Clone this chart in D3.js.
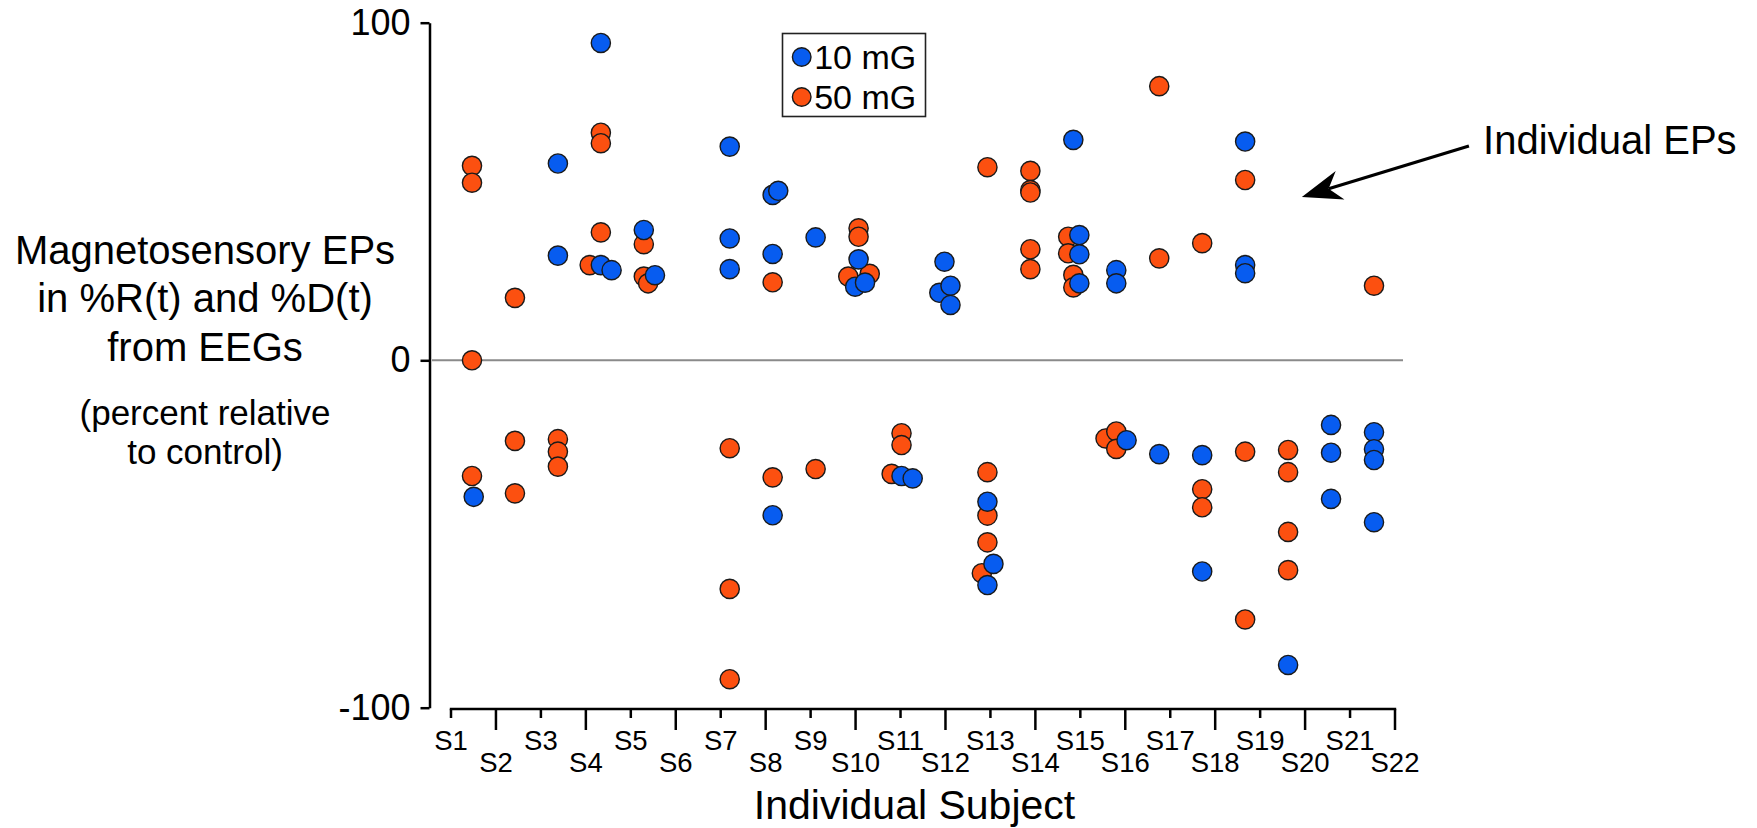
<!DOCTYPE html>
<html>
<head>
<meta charset="utf-8">
<script src="https://cdn.jsdelivr.net/npm/d3@7"></script>
<style>
  html, body { margin: 0; padding: 0; background: #fff; }
  svg { display: block; font-family: "Liberation Sans", Arial, sans-serif; }
</style>
</head>
<body>
<svg id="chart" width="1757" height="828"></svg>
<script>
// ---------- DATA ----------
const subjects = d3.range(1, 23).map(i => "S" + i);
const yTickValues = [-100, 0, 100];
const seriesNames = ["10 mG", "50 mG"];

// 10 mG: subject position (subject number, small jitter as plotted) and value (%)
const pos10 = [1.04, 3, 3, 4, 4, 4.25, 5, 5.26, 7, 7, 7, 8, 8.13, 8, 8, 9,
  10, 9.92, 10.15, 11, 11.26, 12, 11.88, 12.14, 12.14, 13, 13.14, 13,
  15, 15.14, 15.14, 15.14, 16, 16, 16.24, 17, 18, 18, 19, 19, 19, 20,
  21, 21, 21, 22, 22, 22, 22];
const val10 = [-39.3, 58.3, 31, 94, 28.2, 26.7, 38.6, 25.2, 63.3, 36.1, 27, 49, 50.2, 31.5, -44.6, 36.4,
  29.9, 21.8, 23, -33.3, -34, 29.2, 20, 22.1, 16.4, -40.7, -58.6, -64.7,
  65.3, 37.1, 31.4, 22.8, 26.7, 22.8, -23, -27, -27.3, -60.8, 64.8, 28.2, 25.8, -87.7,
  -18.6, -26.6, -39.9, -20.7, -25.6, -28.7, -46.6];

// 50 mG
const pos50 = [1, 1, 1, 1, 2, 2, 2, 3, 3, 3, 4, 4, 4, 3.74, 5, 5, 5.1, 7, 7, 7, 8, 8, 9,
  10, 10, 9.76, 10.26, 11, 11, 10.77, 13, 13, 13, 13, 12.87, 14, 14, 14, 14, 14,
  14.88, 14.88, 15, 15, 15.75, 16, 16, 17, 17, 18, 18, 18, 19, 19, 19, 20, 20, 20, 20, 22];
const val50 = [57.6, 52.6, 0, -33.3, 18.5, -23.2, -38.3, -22.7, -26.3, -30.6, 67.4, 64.3, 37.9, 28.2, 34.4, 24.8, 22.8, -25.3, -65.8, -91.8, 23.1, -33.7, -31.3,
  39.1, 36.6, 24.8, 25.6, -21, -24.4, -32.7, 57.2, -32.2, -44.7, -52.4, -61.3, 56.1, 50.4, 49.7, 32.9, 27,
  36.6, 31.7, 25.3, 21.6, -22.5, -20.5, -25.5, 81.2, 30.2, 34.7, -37.1, -42.3, 53.4, -26.3, -74.6, -25.8, -32.2, -49.4, -60.4, 22.1];

// annotation anchor (data coordinates: subject position, value)
const annoText = "Individual EPs";
const annoTail = [24.21, 63.5];
const annoTip = [20.32, 48.4];
const annoLabel = [24.54, 61.1];

// ---------- STYLE ----------
const colors = { "10 mG": "#075cf0", "50 mG": "#fc5010" };
const R = 9.6;

const svg = d3.select("#chart");

// scales
const y = d3.scaleLinear().domain([-100, 0, 100]).range([707.7, 360.3, 22.7]);
const xDot = d3.scaleLinear().domain([1, 22]).range([472, 1374]);
const xAxis = d3.scalePoint().domain(subjects).range([451, 1395]);

// zero line
svg.append("line")
  .attr("x1", 432).attr("x2", 1403)
  .attr("y1", y(0)).attr("y2", y(0))
  .attr("stroke", "#8a8a8a").attr("stroke-width", 2);

// y axis
const yAx = svg.append("g")
  .attr("transform", "translate(429.5,0)")
  .call(d3.axisLeft(y).tickValues(yTickValues).tickSize(9).tickSizeOuter(0).tickPadding(10).tickFormat(d => String(d)));
yAx.select(".domain").attr("stroke", "#000").attr("stroke-width", 2.5);
yAx.selectAll(".tick line").attr("stroke", "#000").attr("stroke-width", 2.5);
yAx.selectAll("text").attr("font-size", 36).attr("fill", "#000")
  .attr("font-family", "'Liberation Sans', Arial, sans-serif");

// x axis: odd subjects short ticks, row 1 labels; even subjects long ticks, row 2 labels
const xg = svg.append("g").attr("transform", "translate(0,709)");
xg.append("line").attr("x1", xAxis(subjects[0]) - 1.2).attr("x2", xAxis(subjects[subjects.length - 1]) + 1.2)
  .attr("stroke", "#000").attr("stroke-width", 2.5);
const ticks = xg.selectAll("g.xt").data(subjects).join("g")
  .attr("class", "xt")
  .attr("transform", d => `translate(${xAxis(d)},0)`);
ticks.append("line")
  .attr("y1", 0)
  .attr("y2", (d, i) => i % 2 === 0 ? 9 : 21)
  .attr("stroke", "#000").attr("stroke-width", 2.5);
ticks.append("text")
  .attr("y", (d, i) => i % 2 === 0 ? 31 : 53)
  .attr("dy", "0.35em")
  .attr("text-anchor", "middle")
  .attr("font-size", 27.5)
  .text(d => d);

// axis titles
svg.append("text")
  .attr("x", 914.5).attr("y", 805).attr("dy", "0.35em")
  .attr("text-anchor", "middle").attr("font-size", 41)
  .text("Individual Subject");

const yTitle = [
  { t: "Magnetosensory EPs", y: 250, s: 40 },
  { t: "in %R(t) and %D(t)", y: 298, s: 40 },
  { t: "from EEGs", y: 347, s: 40 },
  { t: "(percent relative", y: 413, s: 35 },
  { t: "to control)", y: 452, s: 35 }
];
svg.selectAll("text.ytitle").data(yTitle).join("text")
  .attr("class", "ytitle")
  .attr("x", 205).attr("y", d => d.y).attr("dy", "0.35em")
  .attr("text-anchor", "middle").attr("font-size", d => d.s)
  .text(d => d.t);

// dots: 50 mG first, then 10 mG on top
const pts50 = val50.map((v, i) => ({ p: pos50[i], v, s: "50 mG" }));
const pts10 = val10.map((v, i) => ({ p: pos10[i], v, s: "10 mG" }));
svg.append("g").selectAll("circle").data(pts50.concat(pts10)).join("circle")
  .attr("cx", d => xDot(d.p))
  .attr("cy", d => y(d.v))
  .attr("r", R)
  .attr("fill", d => colors[d.s])
  .attr("stroke", "#1a1a1a").attr("stroke-width", 1.4);

// legend
const lg = svg.append("g");
lg.append("rect").attr("x", 782.5).attr("y", 33.5).attr("width", 143).attr("height", 83)
  .attr("fill", "#fff").attr("stroke", "#222").attr("stroke-width", 1.6);
const li = lg.selectAll("g.li").data(seriesNames).join("g")
  .attr("class", "li")
  .attr("transform", (d, i) => `translate(801.7,${57 + i * 40})`);
li.append("circle").attr("r", 9.3).attr("fill", d => colors[d])
  .attr("stroke", "#1a1a1a").attr("stroke-width", 1.4);
li.append("text").attr("x", 12.5).attr("dy", "0.36em").attr("font-size", 34).text(d => d);

// annotation arrow
const tip = [xDot(annoTip[0]), y(annoTip[1])];
const tail = [xDot(annoTail[0]), y(annoTail[1])];
const ang = Math.atan2(tail[1] - tip[1], tail[0] - tip[0]);
const headLen = 40, headW = 15, notch = 28;
const rot = (dx, dy) => [tip[0] + dx * Math.cos(ang) - dy * Math.sin(ang), tip[1] + dx * Math.sin(ang) + dy * Math.cos(ang)];
const bNotch = rot(notch, 0);
svg.append("line")
  .attr("x1", tail[0]).attr("y1", tail[1]).attr("x2", bNotch[0]).attr("y2", bNotch[1])
  .attr("stroke", "#000").attr("stroke-width", 3.2);
svg.append("path")
  .attr("d", d3.line()([tip, rot(headLen, -headW), bNotch, rot(headLen, headW)]) + "Z")
  .attr("fill", "#000");
svg.append("text")
  .attr("x", xDot(annoLabel[0])).attr("y", y(annoLabel[1]))
  .attr("font-size", 40).text(annoText);
</script>
</body>
</html>
